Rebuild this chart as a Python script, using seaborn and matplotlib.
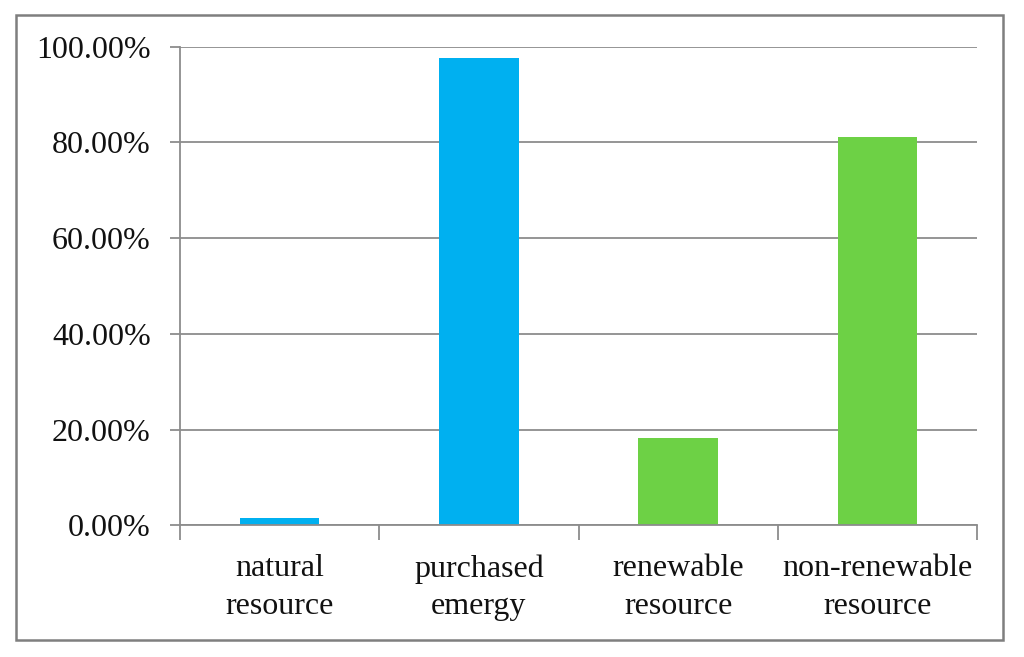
import matplotlib
matplotlib.use("Agg")
import matplotlib.pyplot as plt
import seaborn as sns
import pandas as pd
from matplotlib.patches import Rectangle
from matplotlib.ticker import FixedLocator, FuncFormatter

categories = ["natural\nresource", "purchased\nemergy", "renewable\nresource", "non-renewable\nresource"]
values = [1.6, 97.7, 18.2, 81.2]
bar_colors = ["#00B0F0", "#00B0F0", "#6DD145", "#6DD145"]
y_ticks = [0, 20, 40, 60, 80, 100]

sns.set_theme(style="white")
plt.rcParams["font.family"] = ["Liberation Serif", "DejaVu Serif"]

df = pd.DataFrame({"category": categories, "value": values})

fig = plt.figure(figsize=(10.24, 6.57), dpi=100)
ax = fig.add_axes([180/1024, 1-525.3/657, (977-180)/1024, (525.3-46.7)/657])

sns.barplot(data=df, x="category", y="value", hue="category",
            palette=bar_colors, legend=False, width=0.4, ax=ax,
            saturation=1, edgecolor="none")

grid_c = "#8C8C8C"
ax.set_ylim(0, 100)
ax.set_xlim(-0.5, len(categories) - 0.5)
ax.set_yticks(y_ticks)
ax.yaxis.set_major_formatter(FuncFormatter(lambda v, p: f"{v:.2f}%"))
ax.yaxis.grid(True, color=grid_c, linewidth=1.3)
ax.set_axisbelow(True)

ax.xaxis.set_major_locator(FixedLocator([i - 0.5 for i in range(len(categories) + 1)]))
ax.xaxis.set_minor_locator(FixedLocator(list(range(len(categories)))))
ax.set_xticklabels([""] * (len(categories) + 1))
ax.set_xticklabels(categories, minor=True)
ax.tick_params(axis="x", which="major", length=11, width=1.3, color=grid_c, direction="out", bottom=True)
ax.tick_params(axis="x", which="minor", length=0, pad=21, labelsize=23, labelcolor="#111111")
ax.tick_params(axis="y", length=7, width=1.3, color=grid_c, direction="out", left=True,
               labelsize=23, pad=14, labelcolor="#111111")
for lab in ax.get_xticklabels(minor=True):
    lab.set_linespacing(1.38)

ax.set_xlabel("")
ax.set_ylabel("")
for s in ["top", "right"]:
    ax.spines[s].set_visible(False)
for s in ["left", "bottom"]:
    ax.spines[s].set_color(grid_c)
    ax.spines[s].set_linewidth(1.3)

# outer chart frame
fig.patches.append(Rectangle((16/1024, 1-640/657), (1003-16)/1024, (640-15)/657,
                             transform=fig.transFigure, fill=False,
                             edgecolor="#7F7F7F", linewidth=1.8))

fig.savefig("out.png", dpi=100)
